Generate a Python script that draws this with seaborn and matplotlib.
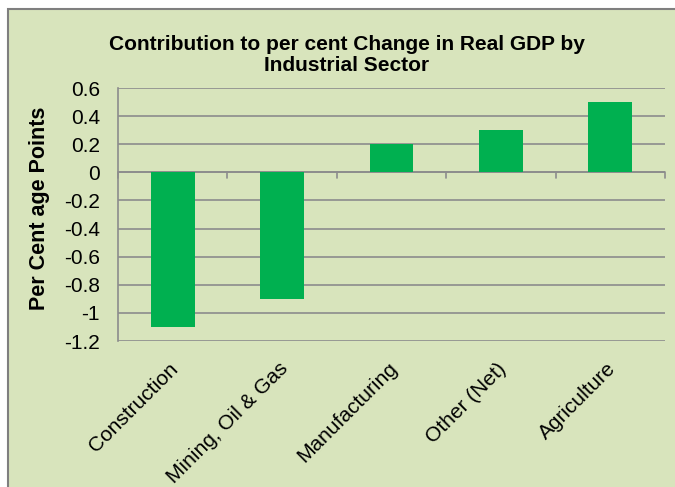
import numpy as np
import pandas as pd
import matplotlib.pyplot as plt
import matplotlib.transforms as mtransforms
import seaborn as sns
from matplotlib.patches import Rectangle

# Chart data
sectors = ['Construction', 'Mining, Oil & Gas', 'Manufacturing', 'Other (Net)', 'Agriculture']
contribution = [-1.1, -0.9, 0.2, 0.3, 0.5]
y_ticks = [0.6, 0.4, 0.2, 0, -0.2, -0.4, -0.6, -0.8, -1, -1.2]
y_labels = ['0.6', '0.4', '0.2', '0', '-0.2', '-0.4', '-0.6', '-0.8', '-1', '-1.2']

df = pd.DataFrame({'Sector': sectors, 'Contribution': contribution})

sns.set_style('white')
plt.rcParams['font.family'] = ['Liberation Sans', 'DejaVu Sans']
plt.rcParams['text.color'] = 'black'
plt.rcParams['xtick.color'] = 'black'
plt.rcParams['ytick.color'] = 'black'
plt.rcParams['axes.labelcolor'] = 'black'

bg = '#D8E4BC'
grid_col = '#8C8C8C'

fig = plt.figure(figsize=(6.75, 4.87), dpi=100)
fig.patch.set_facecolor('white')
# outer chart frame
frame = Rectangle((8 / 675, -0.01), 1.0, 1 - 9 / 487 + 0.01,
                  transform=fig.transFigure, facecolor=bg,
                  edgecolor='#7F7F7F', linewidth=1.5, zorder=-10)
fig.patches.append(frame)

ax = fig.add_axes([118 / 675, 1 - 341 / 487, (665 - 118) / 675, (341 - 88) / 487])
ax.set_facecolor(bg)

sns.barplot(data=df, x='Sector', y='Contribution', color='#00B050',
            width=0.4, saturation=1, linewidth=0, ax=ax, zorder=3)

ax.set_ylim(-1.2, 0.6)
ax.set_yticks(y_ticks)
ax.set_yticklabels(y_labels, fontsize=15)
ax.set_xlim(-0.5, 4.5)
ax.yaxis.grid(True, color=grid_col, linewidth=1.2, zorder=0)
ax.set_axisbelow(True)

for s in ['top', 'right', 'bottom']:
    ax.spines[s].set_visible(False)
ax.spines['left'].set_color(grid_col)
ax.spines['left'].set_linewidth(1.2)

ax.tick_params(axis='y', length=6, color=grid_col, width=1.2, pad=7)
ax.tick_params(axis='x', length=0, pad=13)

# zero axis line with ticks at category boundaries
ax.axhline(0, color=grid_col, linewidth=1.2, zorder=2)
for b in np.arange(-0.5, 5, 1.0):
    ax.plot([b, b], [0, -0.04], color=grid_col, linewidth=1.2, zorder=2, clip_on=False)

ax.set_xticks(range(len(sectors)))
ax.set_xticklabels(sectors, rotation=45, ha='right', rotation_mode='anchor', fontsize=15)
shift = mtransforms.ScaledTranslation(-0.04, 0, fig.dpi_scale_trans)
for lab in ax.get_xticklabels():
    lab.set_transform(lab.get_transform() + shift)

ax.set_xlabel('')
ax.set_ylabel('Per Cent age Points', fontsize=15.5, fontweight='bold')
ax.yaxis.set_label_coords(50 / 675, 1 - 208 / 487, transform=fig.transFigure)

fig.text(347 / 675, 1 - 55 / 487,
         'Contribution to per cent Change in Real GDP by\nIndustrial Sector',
         ha='center', va='center', fontsize=15, fontweight='bold', linespacing=1.15)

fig.savefig('out.png', dpi=100, facecolor='white')
